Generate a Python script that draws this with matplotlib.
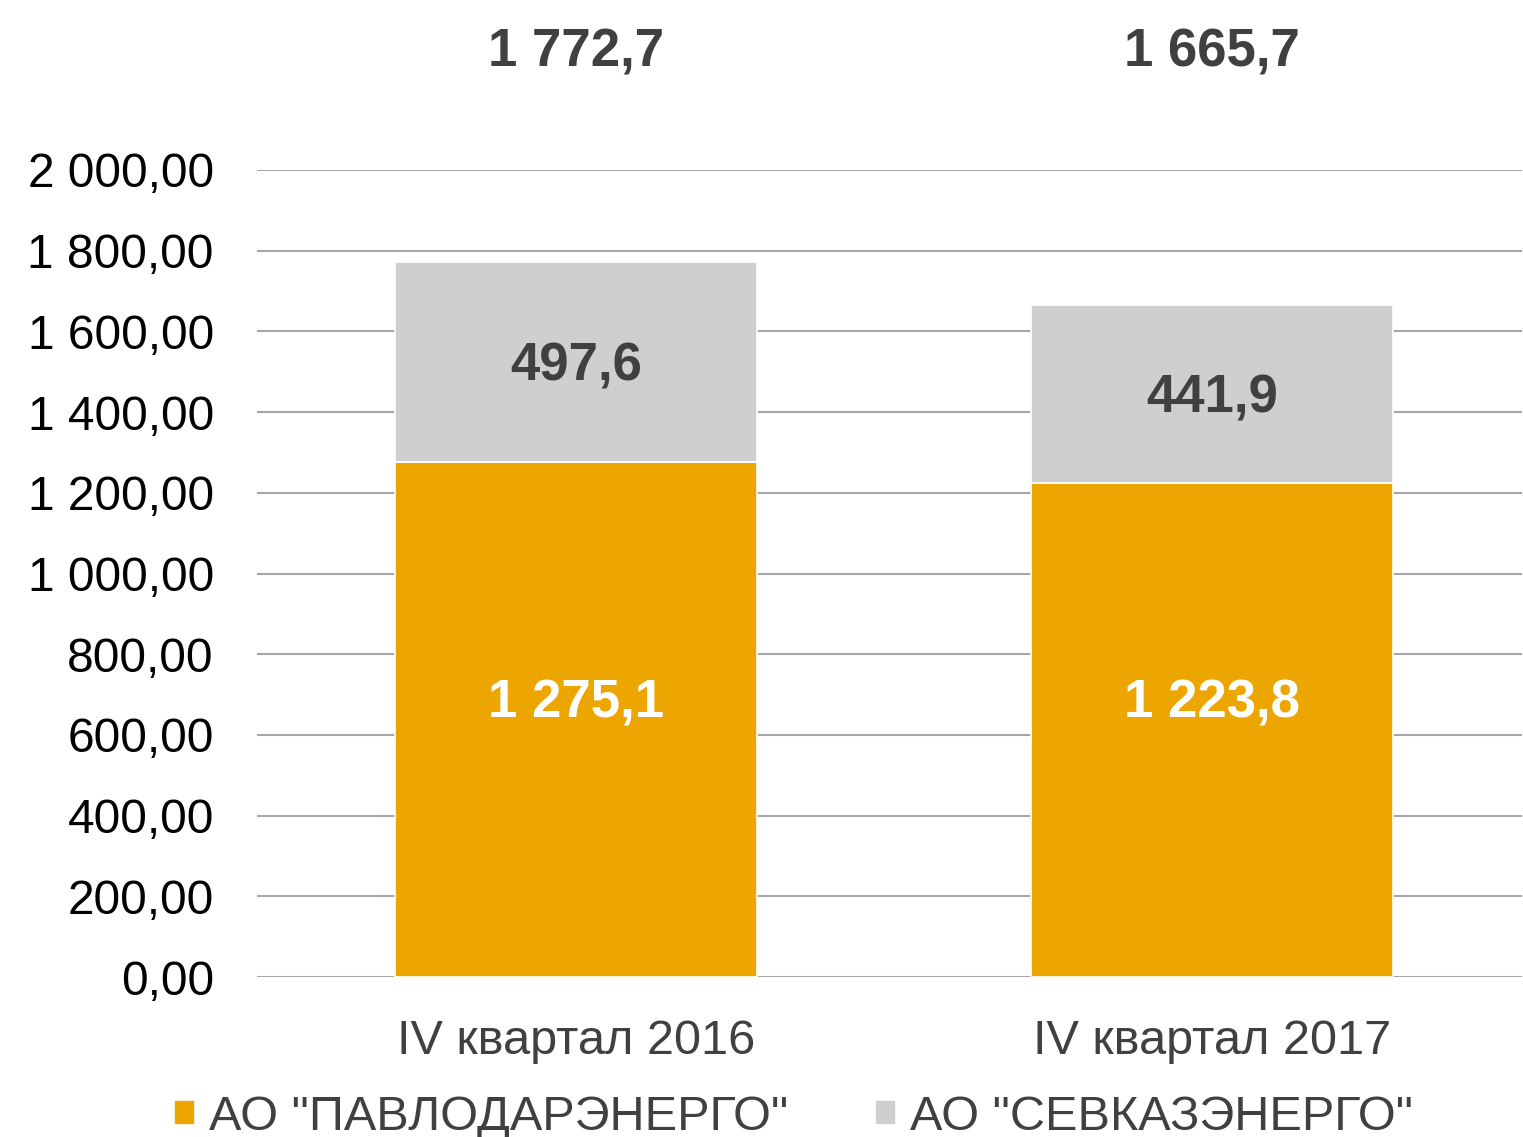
import matplotlib.pyplot as plt
import numpy as np

plt.rcParams['font.family'] = ['Liberation Sans', 'DejaVu Sans']

# data
categories = ['IV квартал 2016', 'IV квартал 2017']
pavlodar = [1275.1, 1223.8]
sevkaz = [497.6, 441.9]
series_names = ['АО "ПАВЛОДАРЭНЕРГО"', 'АО "СЕВКАЗЭНЕРГО"']
yticks = [0, 200, 400, 600, 800, 1000, 1200, 1400, 1600, 1800, 2000]

orange = '#EDA500'
gray = '#D0CECF'
dark = '#404040'


def fmt(v, dec):
    s = f"{v:,.{dec}f}"
    return s.replace(',', ' ').replace('.', ',')


fig = plt.figure(figsize=(15.23, 11.37), dpi=100)
ax = fig.add_axes([0.1687, 0.1407, 0.8306, 0.7098])

x = np.arange(len(categories))
w = 0.569
ax.bar(x, pavlodar, w, color=orange, edgecolor='white', linewidth=1.2,
       label=series_names[0], zorder=3)
ax.bar(x, sevkaz, w, bottom=pavlodar, color=gray, edgecolor='white',
       linewidth=1.2, label=series_names[1], zorder=3)

# inner labels of the orange part sit at the same height in both bars
inner_y = max(pavlodar) / 2 + 40
for i in range(len(categories)):
    ax.text(x[i], inner_y, fmt(pavlodar[i], 1), ha='center',
            va='center', fontsize=38, fontweight='bold', color='white', zorder=4)
    ax.text(x[i], pavlodar[i] + sevkaz[i] / 2 - 12, fmt(sevkaz[i], 1), ha='center',
            va='center', fontsize=38, fontweight='bold', color=dark, zorder=4)
    total = pavlodar[i] + sevkaz[i]
    ax.text(x[i], 2290, fmt(total, 1), ha='center', va='center', fontsize=38,
            fontweight='bold', color=dark, clip_on=False)

ax.set_xlim(-0.5016, 1.4874)
ax.set_ylim(0, 2000)
ax.set_yticks(yticks)
ax.set_yticklabels([fmt(v, 2) for v in yticks], fontsize=34.5, color='black')
ax.set_xticks(x)
ax.set_xticklabels(categories, fontsize=35, color=dark)
ax.tick_params(axis='both', length=0)
ax.tick_params(axis='y', pad=31)
ax.tick_params(axis='x', pad=30)
ax.yaxis.grid(True, color='#A6A6A6', linewidth=1.5, zorder=0)
ax.set_axisbelow(True)
for s in ax.spines.values():
    s.set_visible(False)

handles, labels = ax.get_legend_handles_labels()
fig.legend(handles, labels, loc='lower center', bbox_to_anchor=(0.521, -0.041),
           ncol=2, frameon=False, fontsize=35, labelcolor=dark,
           handlelength=0.42, handleheight=0.42, handletextpad=0.29,
           columnspacing=1.79)

fig.savefig('out.png', dpi=100)
